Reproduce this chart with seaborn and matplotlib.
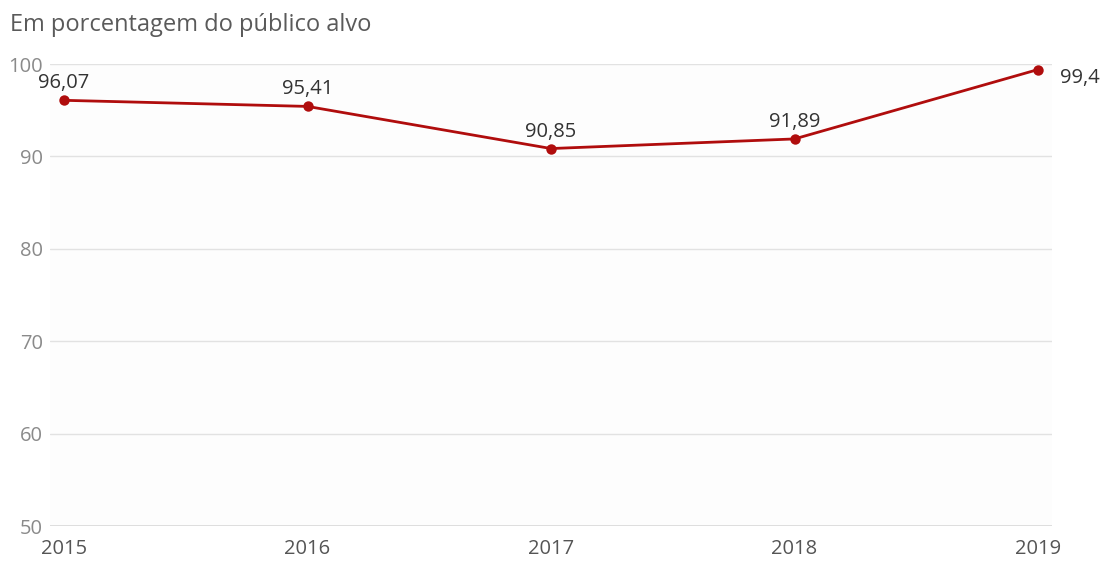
import matplotlib
matplotlib.use("Agg")
import matplotlib.pyplot as plt
import seaborn as sns
import pandas as pd

years = [2015, 2016, 2017, 2018, 2019]
values = [96.07, 95.41, 90.85, 91.89, 99.4]
value_labels = ["96,07", "95,41", "90,85", "91,89", "99,4"]
y_ticks = [50, 60, 70, 80, 90, 100]
title = "Em porcentagem do público alvo"

sns.set_theme(style="white")
plt.rcParams["font.family"] = ["Open Sans", "DejaVu Sans"]

df = pd.DataFrame({"ano": years, "valor": values})

fig = plt.figure(figsize=(11.01, 5.61), dpi=100)
ax = fig.add_axes([50 / 1101, 1 - 526 / 561, 1002 / 1101, 462 / 561])
ax.set_facecolor("#fdfdfd")

line_color = "#b00d0d"
sns.lineplot(data=df, x="ano", y="valor", ax=ax, color=line_color, linewidth=2,
             marker="o", markersize=7.5, markeredgewidth=0, zorder=3)

ax.set_xlim(2015 - 14 / 243.5, 2019 + 14 / 243.5)
ax.set_ylim(50, 100)
ax.set_yticks(y_ticks)
ax.set_xticks(years)
ax.set_xticklabels([str(y) for y in years])
ax.yaxis.grid(True, color="#e2e2e2", linewidth=1)
ax.xaxis.grid(False)
for s in ax.spines.values():
    s.set_visible(False)
ax.axhline(50, color="#d9d9d9", linewidth=1.2, zorder=2)

ax.tick_params(axis="y", length=0, pad=5, labelsize=14.5, labelcolor="#8a8a8a")
ax.tick_params(axis="x", length=6, width=1, color="#d9d9d9", pad=3,
               labelsize=14.5, labelcolor="#555555", direction="out")
ax.set_xlabel("")
ax.set_ylabel("")

for i, (x, v, lab) in enumerate(zip(years, values, value_labels)):
    if i == len(years) - 1:
        ax.annotate(lab, (x, v), xytext=(16, -6), textcoords="offset points",
                    ha="left", va="center", fontsize=14.5, color="#333333")
    else:
        ax.annotate(lab, (x, v), xytext=(0, 5), textcoords="offset points",
                    ha="center", va="bottom", fontsize=14.5, color="#333333")

fig.text(10 / 1101, 1 - 25 / 561, title, ha="left", va="center",
         fontsize=17, color="#5a5a5a")

fig.savefig("out.png", dpi=100, facecolor="white")
